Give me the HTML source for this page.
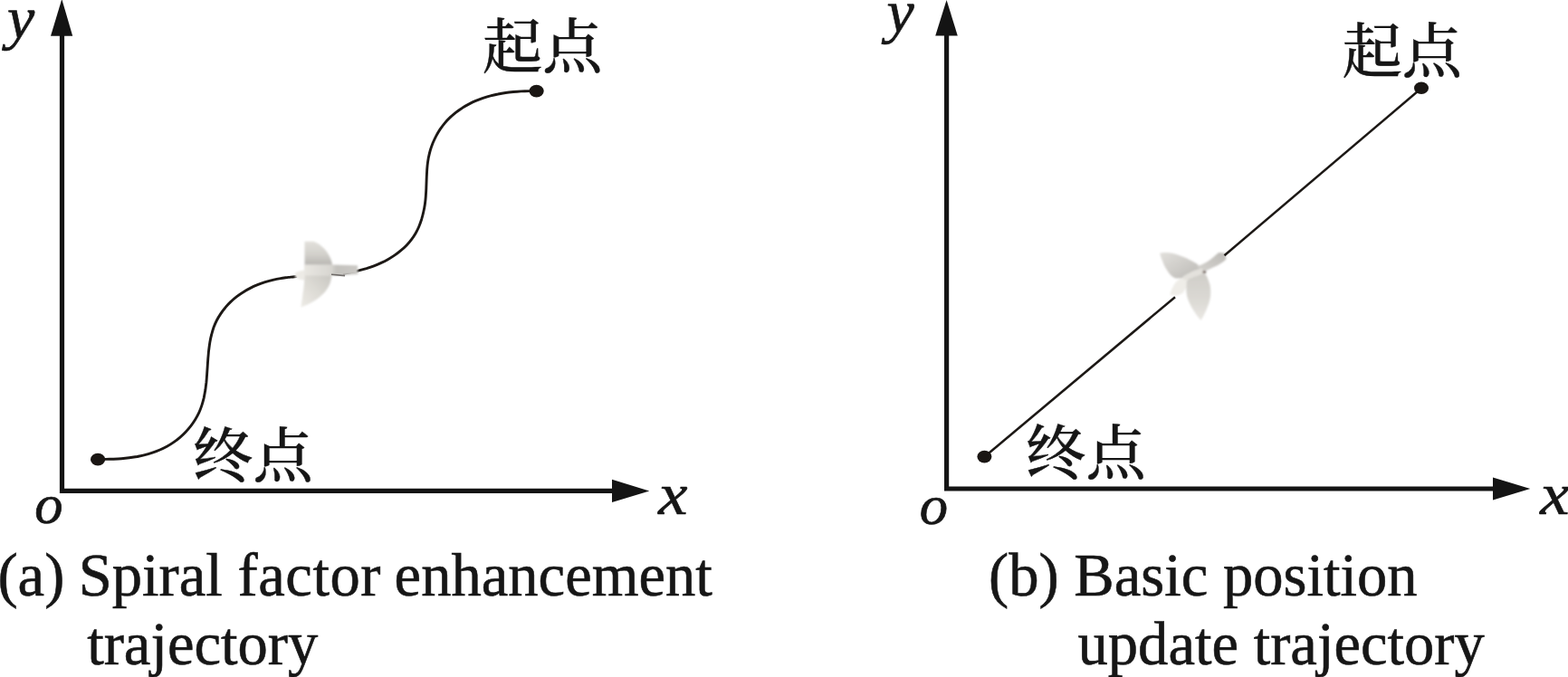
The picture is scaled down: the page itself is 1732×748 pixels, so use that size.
<!DOCTYPE html>
<html lang="zh">
<head>
<meta charset="utf-8">
<title>Trajectory comparison</title>
<style>
html,body{margin:0;padding:0;background:#fff;}
body{width:1732px;height:748px;overflow:hidden;position:relative;}
svg{display:block;position:absolute;left:0;top:0;}
.lat{font-family:"Liberation Serif",serif;font-size:66.6px;fill:#161616;stroke:#161616;stroke-width:0.6px;}
.it{font-family:"Liberation Serif",serif;font-style:italic;font-size:66px;fill:#161616;stroke:#161616;stroke-width:0.7px;}
.cjk{font-family:"Liberation Serif","Noto Serif CJK SC",serif;font-size:66.2px;fill:#161616;font-weight:500;stroke:#161616;stroke-width:0.4px;}
</style>
</head>
<body>
<svg width="1732" height="748" viewBox="0 0 1732 748">
<defs>
<linearGradient id="wingA" x1="0" y1="0" x2="0" y2="1">
<stop offset="0" stop-color="#e3e1dc"/><stop offset="0.55" stop-color="#d2d0cb"/><stop offset="0.9" stop-color="#bcbab6"/><stop offset="1" stop-color="#c6c4c0"/>
</linearGradient>
<linearGradient id="bodyA" x1="0" y1="0" x2="1" y2="0">
<stop offset="0" stop-color="#e9e7e2"/><stop offset="0.5" stop-color="#d8d6d1"/><stop offset="0.6" stop-color="#c4c2be"/><stop offset="1" stop-color="#cbc9c5"/>
</linearGradient>
<linearGradient id="wingB" x1="1" y1="0" x2="0" y2="1">
<stop offset="0" stop-color="#c9c7c2"/><stop offset="0.5" stop-color="#dddbd5"/><stop offset="1" stop-color="#edebe6"/>
</linearGradient>
<linearGradient id="wingC" x1="0" y1="0" x2="1" y2="1">
<stop offset="0" stop-color="#e2e0dc"/><stop offset="0.5" stop-color="#cfcdc9"/><stop offset="1" stop-color="#bab8b4"/>
</linearGradient>
<linearGradient id="tailC" x1="0" y1="1" x2="1" y2="0">
<stop offset="0" stop-color="#d5d3cf"/><stop offset="1" stop-color="#bdbbb7"/>
</linearGradient>
<linearGradient id="wingD" x1="0" y1="0" x2="0" y2="1">
<stop offset="0" stop-color="#cfcdc8"/><stop offset="0.6" stop-color="#dcdad5"/><stop offset="1" stop-color="#eae8e4"/>
</linearGradient>
<filter id="bl" x="-20%" y="-20%" width="140%" height="140%"><feGaussianBlur stdDeviation="0.9"/></filter>
<filter id="bl2" x="-20%" y="-20%" width="140%" height="140%"><feGaussianBlur stdDeviation="1.1"/></filter>
</defs>
<rect x="0" y="0" width="1732" height="748" fill="#ffffff"/>

<!-- left axes -->
<path d="M68.5 38 V542.4 H678" fill="none" stroke="#141414" stroke-width="5.2" stroke-linejoin="miter"/>
<polygon points="68.3,-1 80.2,39.8 56,39.8" fill="#141414"/>
<polygon points="717.3,542.4 676,529.8 676,555" fill="#141414"/>

<!-- right axes -->
<path d="M1045.6 38 V540 H1651" fill="none" stroke="#141414" stroke-width="5.2" stroke-linejoin="miter"/>
<polygon points="1045.6,0 1057.8,39.6 1033.2,39.6" fill="#141414"/>
<polygon points="1690.3,540 1649,527.5 1649,552.5" fill="#141414"/>

<!-- left trajectory -->
<path d="M108.0 507.6 C109.4 507.6 113.8 507.5 116.6 507.4 C119.5 507.3 122.4 507.3 125.3 507.2 C128.2 507.1 131.1 507.0 134.0 506.7 C136.9 506.5 139.9 506.2 142.8 505.8 C145.7 505.4 148.6 505.0 151.5 504.5 C154.3 503.9 157.2 503.3 160.0 502.6 C162.9 501.9 165.7 501.0 168.4 500.1 C171.2 499.2 173.9 498.2 176.6 497.0 C179.2 495.9 181.8 494.6 184.4 493.2 C186.9 491.8 189.4 490.3 191.8 488.6 C194.2 487.0 196.5 485.2 198.7 483.3 C200.9 481.4 203.1 479.4 205.1 477.2 C207.1 475.1 209.0 472.9 210.8 470.6 C212.6 468.3 214.2 465.9 215.7 463.5 C217.2 461.0 218.6 458.5 219.8 455.9 C221.0 453.3 222.0 450.6 222.9 447.9 C223.8 445.2 224.5 442.4 225.2 439.6 C225.8 436.8 226.3 434.0 226.8 431.1 C227.2 428.3 227.5 425.4 227.9 422.5 C228.2 419.5 228.4 416.6 228.6 413.7 C228.8 410.7 229.0 407.7 229.2 404.8 C229.4 401.8 229.6 398.9 229.8 395.9 C230.1 393.0 230.3 390.0 230.6 387.1 C231.0 384.2 231.3 381.3 231.8 378.4 C232.3 375.6 232.8 372.7 233.6 370.0 C234.3 367.2 235.1 364.5 236.0 361.8 C237.0 359.1 238.1 356.5 239.4 354.0 C240.7 351.5 242.2 349.0 243.8 346.6 C245.4 344.2 247.1 341.9 249.0 339.7 C250.8 337.5 252.8 335.4 254.9 333.4 C257.0 331.4 259.3 329.5 261.6 327.7 C263.9 325.9 266.3 324.2 268.8 322.7 C271.3 321.1 273.8 319.7 276.4 318.4 C279.1 317.0 281.8 315.8 284.5 314.7 C287.2 313.6 290.0 312.6 292.8 311.7 C295.6 310.9 298.5 310.1 301.3 309.4 C304.1 308.7 307.0 308.1 309.9 307.6 C312.7 307.1 315.6 306.8 318.4 306.4 C321.3 306.1 325.6 305.7 327.0 305.5" fill="none" stroke="#1c1815" stroke-width="2.9" stroke-linecap="round"/>
<path d="M380.0 302.0 C381.4 301.8 385.5 301.1 388.3 300.6 C391.0 300.1 393.8 299.6 396.5 298.9 C399.3 298.3 402.1 297.5 404.8 296.7 C407.6 295.8 410.3 294.9 413.0 293.8 C415.7 292.8 418.4 291.7 421.1 290.4 C423.7 289.2 426.3 287.9 428.8 286.4 C431.3 285.0 433.8 283.5 436.1 281.9 C438.5 280.3 440.8 278.5 442.9 276.7 C445.1 274.9 447.2 273.0 449.1 271.0 C451.0 269.0 452.8 266.9 454.5 264.6 C456.2 262.4 457.7 260.1 459.1 257.7 C460.5 255.3 461.7 252.8 462.8 250.2 C463.9 247.6 464.8 245.0 465.7 242.2 C466.5 239.5 467.2 236.8 467.8 234.0 C468.5 231.2 469.0 228.3 469.4 225.5 C469.8 222.6 470.1 219.8 470.3 216.9 C470.5 214.0 470.7 211.1 470.8 208.3 C470.9 205.4 471.0 202.5 471.1 199.7 C471.2 196.8 471.3 194.0 471.5 191.1 C471.6 188.3 471.8 185.5 472.1 182.7 C472.4 179.9 472.8 177.1 473.3 174.3 C473.9 171.5 474.5 168.8 475.3 166.0 C476.1 163.3 477.1 160.6 478.1 158.0 C479.2 155.4 480.4 152.8 481.7 150.3 C483.1 147.7 484.5 145.3 486.1 142.9 C487.7 140.6 489.4 138.3 491.2 136.1 C493.0 133.9 494.9 131.9 497.0 129.9 C499.0 127.9 501.2 126.1 503.4 124.3 C505.6 122.6 508.0 120.9 510.4 119.4 C512.8 117.8 515.2 116.4 517.8 115.1 C520.3 113.8 522.9 112.5 525.5 111.4 C528.1 110.3 530.8 109.3 533.5 108.3 C536.2 107.4 539.0 106.6 541.7 105.9 C544.5 105.1 547.3 104.5 550.0 104.0 C552.8 103.4 555.7 102.9 558.5 102.5 C561.3 102.1 564.1 101.8 567.0 101.5 C569.8 101.3 572.7 101.1 575.5 100.9 C578.3 100.8 581.2 100.7 584.0 100.6 C586.8 100.6 591.1 100.7 592.5 100.7" fill="none" stroke="#1c1815" stroke-width="2.9" stroke-linecap="round"/>
<ellipse cx="108.1" cy="507.6" rx="8.1" ry="6.8" fill="#1a1613"/>
<ellipse cx="592.6" cy="100.6" rx="8.1" ry="6.9" fill="#1a1613"/>

<!-- left bird -->
<g filter="url(#bl)">
<path d="M336.5 266.7 L346.4 266.7 C353 269 358 274 361.5 278.9 C364.5 283 366.5 288 367.3 293.5 L336.5 293.5 Z" fill="url(#wingA)"/>
<path d="M326 301.5 C329 299.5 333 299 336.5 298.5 L336.5 309.5 C333 309.5 329 308.5 325.5 306 Z" fill="#edebe6"/>
<path d="M336 292.5 L367.5 292.5 L395 293.2 L395.4 303 L367 304.8 L336 305 Z" fill="url(#bodyA)"/>
<path d="M336.5 304.5 L366.2 304.5 C366 310 364 316 360.3 320.8 C355 328 345 335 332.4 339.6 C333.5 332 335 322 336 313 Z" fill="url(#wingB)"/>
</g>
<path d="M366 303.2 L381 304.6" stroke="#5a5653" stroke-width="1.6" fill="none" opacity="0.85"/>
<!-- right bird -->
<g filter="url(#bl2)">
<path d="M1292.2 325.8 C1294 319 1297 314 1299.5 311 C1303 308 1307 306.5 1310.6 306.1 C1316 303 1321 300 1325.4 297.5 L1331.5 301.2 C1327 305 1323 307 1319.2 308.6 C1315 312 1312 315 1310.6 317.2 C1309 320 1307.5 322 1306.9 323.4 C1303 326 1300 326.5 1298.3 326.5 Z" fill="#efede8"/>
<path d="M1281.1 279.7 C1285 278.6 1290 278.8 1294.6 279.7 C1300 281 1306 283 1310.6 285.2 C1315 287.5 1319 289.5 1322.9 292 L1326 297 C1322 301 1316 304 1311.8 305.5 C1307 307.3 1302 308 1298.3 307.4 C1295 306 1293 304 1290.9 301.2 C1288 297 1286 294 1284.8 290.2 C1283 286 1282 283 1281.1 279.7 Z" fill="url(#wingC)"/>
<path d="M1321 294 C1326 293.5 1332 290.8 1338.9 285.2 C1341.5 283 1344 281 1346.3 279.1 L1353.7 279.7 L1354.3 286.5 C1351 289.5 1347.5 292 1343.8 293.8 C1340 295.5 1336 297.5 1330 300 Z" fill="url(#tailC)"/>
<path d="M1310.8 311 C1314 306 1318 303 1323 301 L1331.5 302.5 C1334 307 1335.5 311 1336.5 314.8 C1337.3 319 1337.4 323 1337.1 327.1 C1336.5 332 1335 337 1332.8 341.8 C1331 346 1329 350 1326.6 354.1 C1324 351 1321.5 348 1319.2 344.3 C1316 339.5 1313.5 334.5 1311.8 329.5 C1310.8 326 1310.3 323 1310.4 319.7 Z" fill="url(#wingD)"/>
<path d="M1306 306 C1312 302 1320 298 1327 296.5 C1329 298 1330 300 1330 302 C1324 304 1316 307 1309 310 Z" fill="#e3e1dc"/>
<ellipse cx="1330.4" cy="300.6" rx="2" ry="1.5" fill="#6f605a"/>
</g>

<!-- right trajectory segments (drawn over the bird) -->
<line x1="1087.4" y1="504.8" x2="1298" y2="328.2" stroke="#1c1815" stroke-width="2.5"/>
<line x1="1352.5" y1="282.2" x2="1570" y2="97.5" stroke="#1c1815" stroke-width="2.5"/>
<ellipse cx="1087.4" cy="504.6" rx="8" ry="6.8" fill="#1a1613"/>
<ellipse cx="1570" cy="97.3" rx="8" ry="6.8" fill="#1a1613"/>

<!-- labels -->
<text class="it" transform="translate(8 41.6) scale(1.03 1)">y</text>
<text class="it" transform="translate(979.6 34.5) scale(1.03 1)">y</text>
<text class="it" style="font-size:62px" transform="translate(38.2 577.7) scale(1.01 1)">o</text>
<text class="it" style="font-size:62px" transform="translate(1015.8 578.5) scale(1.01 1)">o</text>
<text class="it" transform="translate(727.3 567.6) scale(1.1 1)">x</text>
<text class="it" transform="translate(1701.3 567.5) scale(1.1 1)">x</text>

<text class="cjk" x="533" y="75">起点</text>
<text class="cjk" x="213.3" y="527.4">终点</text>
<text class="cjk" x="1482.7" y="80">起点</text>
<text class="cjk" x="1133.3" y="524.2">终点</text>

<text class="lat" y="658.2"><tspan x="-2.6">(a)</tspan> <tspan x="86.7">Spiral</tspan> <tspan x="262.6" style="letter-spacing:0.5px">factor</tspan> <tspan x="435.6">enhancement</tspan></text>
<text class="lat" x="96.2" y="733.5">trajectory</text>
<text class="lat" x="1092" y="657.8">(b) Basic position</text>
<text class="lat" x="1190.5" y="733.8">update trajectory</text>
</svg>
</body>
</html>
